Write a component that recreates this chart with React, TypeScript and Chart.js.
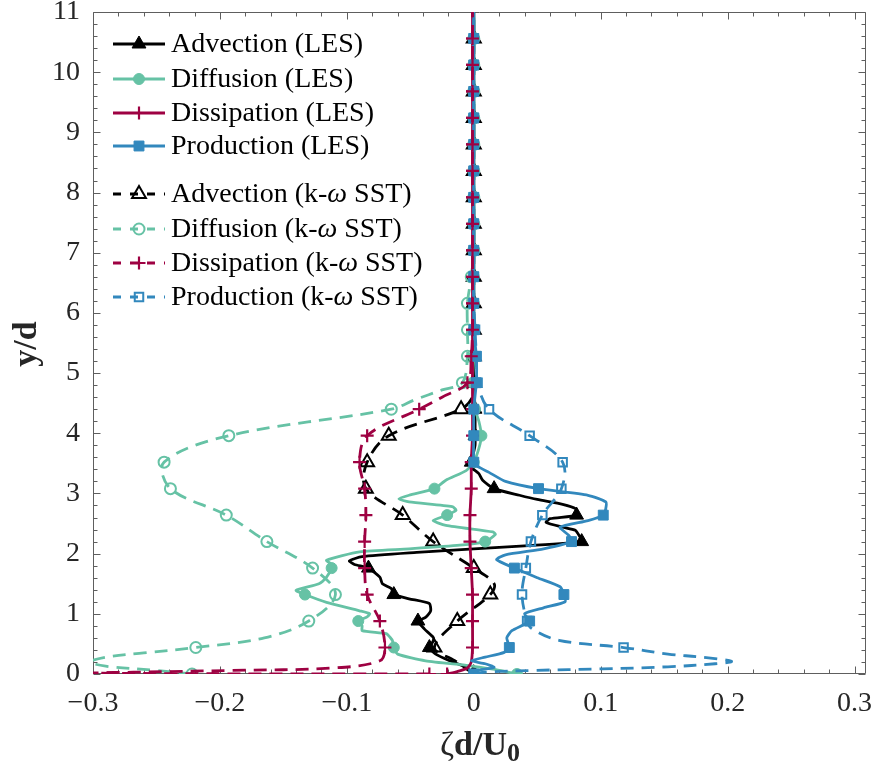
import React, { useEffect, useRef } from 'react';
import { Chart, registerables } from 'chart.js';

Chart.register(...registerables);

// ---------- data ----------
const yMarks = [0, 0.44, 0.88, 1.32, 1.76, 2.2, 2.64, 3.08, 3.52, 3.96, 4.4, 4.84, 5.28, 5.72, 6.16, 6.6, 7.04, 7.48, 7.92, 8.36, 8.8, 9.24, 9.68, 10.12, 10.56];
const xTickValues = [-0.3, -0.2, -0.1, 0, 0.1, 0.2, 0.3];
const yTickValues = [0, 1, 2, 3, 4, 5, 6, 7, 8, 9, 10, 11];

// marker values (one per yMarks entry) and extra line points [y, x]
const advLesMarks = [0, -0.035, -0.044, -0.063, -0.083, 0.085, 0.081, 0.016, -0.002, 0.001, 0.001, 0, 0, 0, 0, 0, 0, 0, 0, 0, 0, 0, 0, 0, 0];
const advLesLine: [number, number][] = [
  [0.11, -0.006], [0.22, -0.019], [0.33, -0.03], [0.55, -0.032], [0.61, -0.032], [0.75, -0.039], [0.94, -0.038],
  [1.05, -0.034], [1.17, -0.035], [1.25, -0.051], [1.42, -0.065], [1.5, -0.072], [1.61, -0.074], [1.82, -0.094],
  [1.88, -0.098], [1.95, -0.088], [2.02, -0.045], [2.08, 0], [2.13, 0.04], [2.3, 0.083], [2.39, 0.08], [2.44, 0.07],
  [2.52, 0.057], [2.58, 0.06], [2.75, 0.08], [2.82, 0.07], [2.9, 0.05], [2.97, 0.036], [3.22, 0.007], [3.33, 0.004],
  [3.45, -0.003], [3.8, 0.001], [11, 0],
];

const diffLesMarks = [0.034, -0.063, -0.091, -0.133, -0.112, 0.009, -0.021, -0.031, 0, 0.006, 0.001, -0.001, 0, 0, 0, 0, 0, 0, 0, 0, 0, 0, 0, 0, 0];
const diffLesLine: [number, number][] = [
  [0.04, 0.025], [0.08, 0.015], [0.14, -0.004], [0.22, -0.038], [0.33, -0.06], [0.55, -0.064], [0.61, -0.066],
  [0.67, -0.069], [0.72, -0.088], [0.8, -0.088], [0.95, -0.084], [1.0, -0.082], [1.05, -0.09], [1.19, -0.116],
  [1.39, -0.14], [1.5, -0.122], [1.61, -0.116], [1.82, -0.112], [1.89, -0.116], [2.03, -0.09], [2.08, -0.051],
  [2.14, -0.011], [2.32, 0.017], [2.36, 0.015], [2.47, -0.022], [2.55, -0.032], [2.72, -0.014], [2.78, -0.017],
  [2.86, -0.051], [2.91, -0.059], [2.97, -0.051], [3.22, -0.022], [3.38, -0.006], [3.75, 0.004], [4.2, 0.004], [11, 0],
];

const dissLesMarks = [-0.021, -0.001, -0.001, -0.001, -0.002, -0.003, -0.003, -0.002, -0.002, -0.001, -0.001, -0.001, -0.001, -0.001, -0.001, -0.001, -0.001, -0.001, -0.001, -0.001, -0.001, -0.001, -0.001, -0.001, -0.001];
const dissLesLine: [number, number][] = [[0.04, -0.013], [0.1, -0.005], [0.2, -0.002], [11, -0.001]];

const prodLesMarks = [0, 0.028, 0.044, 0.071, 0.032, 0.077, 0.102, 0.051, 0, 0, 0, 0.002, 0.002, 0, 0, 0, 0, 0, 0, 0, 0, 0, 0, 0, 0];
const prodLesLine: [number, number][] = [
  [0.06, 0.004], [0.11, 0.016], [0.17, 0.009], [0.22, -0.002], [0.28, 0.009], [0.36, 0.024], [0.6, 0.026],
  [0.72, 0.03], [1.0, 0.04], [1.1, 0.055], [1.2, 0.072], [1.45, 0.068], [1.6, 0.05], [1.9, 0.018], [1.98, 0.025],
  [2.08, 0.055], [2.3, 0.075], [2.44, 0.068], [2.55, 0.09], [2.75, 0.104], [2.86, 0.104], [2.97, 0.09],
  [3.2, 0.025], [3.35, 0.012], [3.45, 0.003], [11, 0],
];

const advSstMarks = [0, -0.031, -0.013, 0.013, 0, -0.032, -0.056, -0.085, -0.084, -0.067, -0.01, 0, 0, 0, 0, 0, 0, 0, 0, 0, 0, 0, 0, 0, 0];
const advSstLine: [number, number][] = [[0.22, -0.015], [1.5, 0.016], [4.6, -0.001], [11, 0]];

const diffSstMarks = [-0.222, -0.219, -0.13, -0.109, -0.127, -0.163, -0.195, -0.239, -0.244, -0.193, -0.065, -0.009, -0.005, -0.005, -0.005, -0.002, 0, 0, 0, 0, 0, 0, 0, 0, 0];
const diffSstLine: [number, number][] = [
  [0.06, -0.25], [0.13, -0.29], [0.2, -0.302], [0.28, -0.29], [0.35, -0.26], [0.6, -0.165], [4.56, -0.046], [4.72, -0.025], [11, 0],
];

const dissSstMarks = [-0.035, -0.07, -0.074, -0.084, -0.086, -0.086, -0.085, -0.086, -0.09, -0.084, -0.043, -0.005, -0.002, -0.001, -0.001, -0.001, -0.001, -0.001, -0.001, -0.001, -0.001, -0.001, -0.001, -0.001, -0.001];
const dissSstLine: [number, number][] = [
  [0.004, -0.2], [0.015, -0.302], [0.03, -0.268], [0.06, -0.19], [0.1, -0.111], [0.22, -0.074], [4.6, -0.025], [11, -0.001],
];

const prodSstMarks = [0, 0.118, 0.042, 0.038, 0.041, 0.045, 0.054, 0.069, 0.07, 0.044, 0.012, 0.003, 0.002, 0.001, 0, 0, 0, 0, 0, 0, 0, 0, 0, 0, 0];
const prodSstLine: [number, number][] = [
  [0.03, 0.009], [0.06, 0.048], [0.085, 0.101], [0.12, 0.153], [0.17, 0.19], [0.21, 0.203], [0.28, 0.18], [0.33, 0.153],
  [0.56, 0.067], [0.75, 0.046], [11, 0],
];

// ---------- styling ----------
const BLACK = '#000000';
const TEAL = '#66c2a5';
const CRIMSON = '#9e0142';
const BLUE = '#3288bd';
const FONT = '"Liberation Serif", "Times New Roman", serif';
const LINE_W = 2.8;

type P = { x: number; y: number; m: boolean };
function buildSeries(marks: number[], line: [number, number][]): P[] {
  const pts: P[] = yMarks.map((y, i) => ({ x: marks[i], y, m: true }));
  for (const [y, x] of line) pts.push({ x, y, m: false });
  pts.sort((a, b) => a.y - b.y);
  return pts;
}

type Def = { label: string; marks: number[]; line: [number, number][]; color: string; dashed: boolean; style: string; filled: boolean; r: number; bw: number; layer: number };
// layer: drawing order (higher = drawn later, on top)
const defs: Def[] = [
  { label: 'Advection (LES)', marks: advLesMarks, line: advLesLine, color: BLACK, dashed: false, style: 'triangle', filled: true, r: 8, bw: 1, layer: 0 },
  { label: 'Diffusion (LES)', marks: diffLesMarks, line: diffLesLine, color: TEAL, dashed: false, style: 'circle', filled: true, r: 5.5, bw: 1, layer: 2 },
  { label: 'Dissipation (LES)', marks: dissLesMarks, line: dissLesLine, color: CRIMSON, dashed: false, style: 'cross', filled: true, r: 6.5, bw: 2.2, layer: 4 },
  { label: 'Production (LES)', marks: prodLesMarks, line: prodLesLine, color: BLUE, dashed: false, style: 'rect', filled: true, r: 7, bw: 1, layer: 5 },
  { label: 'Advection (k-ω SST)', marks: advSstMarks, line: advSstLine, color: BLACK, dashed: true, style: 'triangle', filled: false, r: 8, bw: 2, layer: 1 },
  { label: 'Diffusion (k-ω SST)', marks: diffSstMarks, line: diffSstLine, color: TEAL, dashed: true, style: 'circle', filled: false, r: 5.5, bw: 2, layer: 3 },
  { label: 'Dissipation (k-ω SST)', marks: dissSstMarks, line: dissSstLine, color: CRIMSON, dashed: true, style: 'cross', filled: false, r: 6.5, bw: 2.2, layer: 7 },
  { label: 'Production (k-ω SST)', marks: prodSstMarks, line: prodSstLine, color: BLUE, dashed: true, style: 'rect', filled: false, r: 6, bw: 2, layer: 6 },
];

const DASH = [13, 8];
const LEGEND_DASH = [8, 9];

function drawMarker(ctx: CanvasRenderingContext2D, d: Def, x: number, y: number) {
  const r = d.r;
  ctx.save();
  ctx.setLineDash([]);
  ctx.strokeStyle = d.color;
  ctx.fillStyle = d.color;
  ctx.lineWidth = d.bw;
  ctx.beginPath();
  if (d.style === 'triangle') {
    let rad = 0;
    ctx.moveTo(x + Math.sin(rad) * r, y - Math.cos(rad) * r);
    rad += (2 * Math.PI) / 3;
    ctx.lineTo(x + Math.sin(rad) * r, y - Math.cos(rad) * r);
    rad += (2 * Math.PI) / 3;
    ctx.lineTo(x + Math.sin(rad) * r, y - Math.cos(rad) * r);
    ctx.closePath();
  } else if (d.style === 'circle') {
    ctx.arc(x, y, r, 0, Math.PI * 2);
    ctx.closePath();
  } else if (d.style === 'rect') {
    const s = Math.SQRT1_2 * r;
    ctx.rect(x - s, y - s, 2 * s, 2 * s);
  } else {
    ctx.moveTo(x - r, y);
    ctx.lineTo(x + r, y);
    ctx.moveTo(x, y - r);
    ctx.lineTo(x, y + r);
  }
  if (d.filled && d.style !== 'cross') ctx.fill();
  ctx.stroke();
  ctx.restore();
}

const legendRows = [44, 79, 113, 146, 194, 229, 263, 297];

const framePlugin = {
  id: 'frame',
  beforeDatasetsDraw(chart: any) {
    const { ctx, chartArea: a, scales } = chart;
    const xs = scales.x;
    const ys = scales.y;
    const L = Math.round(a.left) + 0.5;
    const R = Math.round(a.right) - 0.5;
    const T = Math.round(a.top) + 0.5;
    const B = Math.round(a.bottom) - 0.5;
    ctx.save();
    ctx.strokeStyle = '#5e5e5e';
    ctx.lineWidth = 1;
    ctx.beginPath();
    ctx.rect(L, T, R - L, B - T);
    for (let i = -15; i <= 15; i++) {
      const px = Math.round(xs.getPixelForValue(i * 0.02)) + 0.5;
      const len = i % 5 === 0 ? 7 : 4;
      ctx.moveTo(px, B);
      ctx.lineTo(px, B - len);
      ctx.moveTo(px, T);
      ctx.lineTo(px, T + len);
    }
    for (let i = 0; i <= 55; i++) {
      const py = Math.round(ys.getPixelForValue(i * 0.2)) + 0.5;
      const len = i % 5 === 0 ? 7 : 4;
      ctx.moveTo(L, py);
      ctx.lineTo(L + len, py);
      ctx.moveTo(R, py);
      ctx.lineTo(R - len, py);
    }
    ctx.stroke();
    ctx.restore();
  },
  afterDatasetsDraw(chart: any) {
    const { ctx } = chart;
    ctx.save();
    defs.forEach((d, i) => {
      const y = legendRows[i];
      ctx.strokeStyle = d.color;
      ctx.lineWidth = LINE_W;
      ctx.setLineDash(d.dashed ? LEGEND_DASH : []);
      ctx.beginPath();
      ctx.moveTo(113, y);
      ctx.lineTo(165, y);
      ctx.stroke();
      drawMarker(ctx, d, 139, y);
      ctx.setLineDash([]);
      ctx.fillStyle = '#000';
      ctx.textBaseline = 'middle';
      ctx.textAlign = 'left';
      const parts = d.label.split('ω');
      let x = 171;
      ctx.font = `28px ${FONT}`;
      ctx.fillText(parts[0], x, y + 1);
      x += ctx.measureText(parts[0]).width;
      if (parts.length > 1) {
        ctx.font = `italic 28px ${FONT}`;
        ctx.fillText('ω', x, y + 1);
        x += ctx.measureText('ω').width;
        ctx.font = `28px ${FONT}`;
        ctx.fillText(parts[1], x, y + 1);
      }
    });
    ctx.restore();
  },
  afterDraw(chart: any) {
    const { ctx } = chart;
    ctx.save();
    ctx.fillStyle = '#262626';
    ctx.textBaseline = 'alphabetic';
    // x title: ζd/U0
    const f1 = `34px ${FONT}`;
    const f2 = `bold 34px ${FONT}`;
    const f3 = `bold 26px ${FONT}`;
    ctx.font = f1;
    const w1 = ctx.measureText('ζ').width;
    ctx.font = f2;
    const w2 = ctx.measureText('d/U').width;
    ctx.font = f3;
    const w3 = ctx.measureText('0').width;
    let x = 480 - (w1 + w2 + w3) / 2;
    const base = 755;
    ctx.textAlign = 'left';
    ctx.font = f1;
    ctx.fillText('ζ', x, base);
    x += w1;
    ctx.font = f2;
    ctx.fillText('d/U', x, base);
    x += w2;
    ctx.font = f3;
    ctx.fillText('0', x, base + 6);
    // y title
    ctx.translate(36, 344);
    ctx.rotate(-Math.PI / 2);
    ctx.textAlign = 'center';
    ctx.font = f2;
    ctx.fillText('y/d', 0, 0);
    ctx.restore();
  },
};

function fmt(v: number): string {
  if (Math.abs(v) < 1e-9) return '0';
  return (v < 0 ? '\u2212' : '') + Math.abs(v).toFixed(1);
}

export default function App() {
  const ref = useRef<HTMLCanvasElement>(null);
  useEffect(() => {
    const datasets = defs.map((d) => ({
      label: d.label,
      data: buildSeries(d.marks, d.line),
      order: 10 - d.layer,
      showLine: true,
      borderColor: d.color,
      borderWidth: LINE_W,
      borderDash: d.dashed ? DASH : [],
      tension: d.dashed ? 0.35 : 0.2,
      fill: false,
      pointStyle: d.style,
      pointRadius: (c: any) => (c.raw && c.raw.m ? d.r : 0),
      pointHoverRadius: 0,
      pointHitRadius: 0,
      pointBackgroundColor: d.filled ? d.color : 'rgba(0,0,0,0)',
      pointBorderColor: d.color,
      pointBorderWidth: d.bw,
    }));
    const chart = new Chart(ref.current as HTMLCanvasElement, {
      type: 'scatter',
      data: { datasets } as any,
      options: {
        responsive: false,
        animation: false,
        events: [],
        layout: { padding: { top: 12, right: 8, left: 0, bottom: 0 } },
        plugins: { legend: { display: false }, tooltip: { enabled: false } },
        scales: {
          x: {
            type: 'linear',
            min: -0.3,
            max: 0.309,
            grid: { display: false, drawTicks: false },
            border: { display: false },
            ticks: {
              font: { family: FONT, size: 28 },
              color: '#262626',
              padding: 13,
              maxRotation: 0,
              autoSkip: false,
              callback: (v: any) => fmt(Number(v)),
            },
            afterBuildTicks: (s: any) => {
              s.ticks = xTickValues.map((v) => ({ value: v }));
            },
            afterFit: (s: any) => {
              s.height = 89;
              s.paddingLeft = 0;
              s.paddingRight = 0;
            },
          },
          y: {
            type: 'linear',
            min: 0,
            max: 11,
            grid: { display: false, drawTicks: false },
            border: { display: false },
            ticks: {
              font: { family: FONT, size: 28 },
              color: '#262626',
              padding: 13,
              autoSkip: false,
              callback: (v: any) => String(v),
            },
            afterBuildTicks: (s: any) => {
              s.ticks = yTickValues.map((v) => ({ value: v }));
            },
            afterFit: (s: any) => {
              s.width = 93;
              s.paddingTop = 0;
              s.paddingBottom = 0;
            },
          },
        },
      } as any,
      plugins: [framePlugin],
    });
    return () => chart.destroy();
  }, []);
  return (
    <div style={{ position: 'absolute', left: 0, top: 0, width: 876, height: 763, background: '#fff' }}>
      <canvas ref={ref} width={876} height={763} />
    </div>
  );
}
